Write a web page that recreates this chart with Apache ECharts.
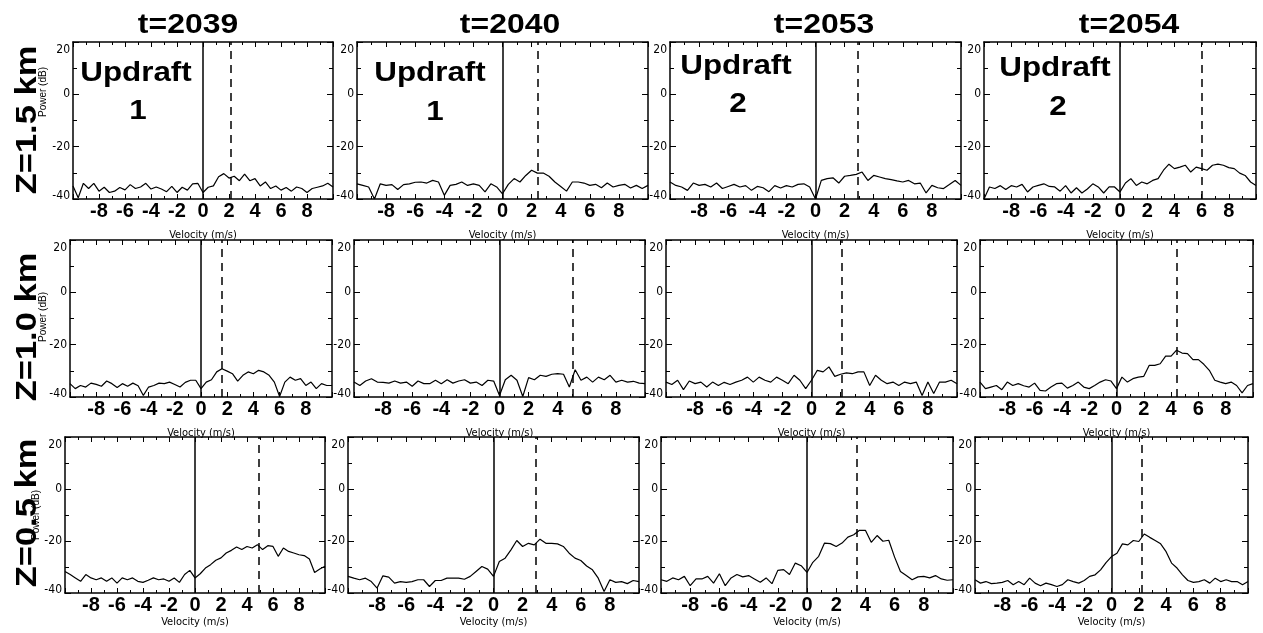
<!DOCTYPE html>
<html><head><meta charset="utf-8">
<script src="https://cdn.jsdelivr.net/npm/echarts@6/dist/echarts.min.js"></script>
<style>html,body{margin:0;padding:0;background:#fff}#c{width:1263px;height:633px}</style>
</head><body><div id="c"></div><script>
// ---------- data ----------
const times = ['t=2039', 't=2040', 't=2053', 't=2054'];
const heights = ['Z=1.5 km', 'Z=1.0 km', 'Z=0.5 km'];
const updraftWord = ['Updraft', 'Updraft', 'Updraft', 'Updraft'];
const updraftNum = ['1', '1', '2', '2'];
const xTickValues = [-8, -6, -4, -2, 0, 2, 4, 6, 8];
const yTickValues = [-40, -20, 0, 20];
const xName = 'Velocity (m/s)';
const yName = 'Power (dB)';

const velocity = [-10,-9.6,-9.2,-8.8,-8.4,-8,-7.6,-7.2,-6.8,-6.4,-6,-5.6,-5.2,-4.8,-4.4,-4,-3.6,-3.2,-2.8,-2.4,-2,-1.6,-1.2,-0.8,-0.4,0,0.4,0.8,1.2,1.6,2,2.4,2.8,3.2,3.6,4,4.4,4.8,5.2,5.6,6,6.4,6.8,7.2,7.6,8,8.4,8.8,9.2,9.6,10];

const power_z15_t2039 = [-35,-39.5,-34,-36,-34,-37,-35.5,-37.5,-37,-35.6,-36.5,-34.5,-36,-35.4,-34,-36.2,-35.4,-36.2,-37.2,-35.2,-37.5,-35.5,-36.6,-34.2,-34,-37.5,-35.5,-35,-31.5,-30.3,-32,-31.3,-33,-30.5,-33,-32.2,-35,-33.5,-36,-35,-36.6,-35.6,-37,-35.4,-36,-37.5,-36,-35.5,-35,-34,-35.4];
const power_z15_t2040 = [-34.2,-34.8,-35.4,-40,-34.2,-34.8,-34.5,-36.4,-34.5,-34.2,-33.6,-33.5,-33.9,-32.9,-33.5,-38.6,-34.8,-34.4,-33.5,-34.8,-34.2,-34.8,-37.3,-34.2,-35.4,-38,-34.4,-32.2,-33.5,-31,-29,-30.1,-30.1,-31.3,-33.5,-35.2,-37,-33.5,-33.5,-33.9,-34.8,-34.4,-35.7,-33.9,-35.4,-34.8,-34.4,-35.8,-34.8,-36,-34.8];
const power_z15_t2053 = [-33.5,-34.8,-35.4,-36.7,-33.9,-34.8,-34.4,-35.4,-33.9,-36,-35.2,-34.4,-35.4,-34.9,-36.7,-35.2,-35.7,-37.2,-34.9,-35.8,-34.9,-35.4,-34.4,-34.2,-35.4,-40,-32.9,-32.2,-31.9,-33.9,-31.3,-31,-30.6,-29.7,-32.9,-31,-31.6,-32.2,-32.6,-33.1,-33.5,-32.9,-34.2,-33.9,-37.7,-34.8,-35.7,-36,-34.5,-32.9,-34.8];
const power_z15_t2054 = [-40,-35.4,-36,-34.9,-36.4,-34.9,-35.4,-34.4,-37.3,-35.4,-34.8,-34.2,-35.2,-35.4,-37,-34.9,-37.7,-35.7,-37.7,-36.2,-34.2,-35.4,-37.7,-35.4,-35.4,-37.3,-33.9,-32.2,-34.8,-33.5,-34.2,-32.9,-32.2,-29,-26.7,-28.4,-27.8,-27.1,-29.7,-27.8,-28.4,-29,-27.1,-26.7,-27.1,-28,-28.4,-30.1,-31,-33.5,-34.8];

const power_z10_t2039 = [-34.9,-36.8,-35.6,-36.2,-34.7,-35.2,-35.9,-33.9,-34.9,-36.4,-34.9,-35.9,-34.7,-35.7,-39.4,-36.2,-35.6,-34.7,-34.9,-34.3,-35.2,-36.2,-34.4,-33.6,-33.6,-36.8,-34.3,-33.4,-30.4,-29.2,-30.1,-31.1,-33.9,-31.7,-30.4,-31.1,-29.8,-30.4,-31.7,-34.3,-39.8,-34.3,-32.4,-33.6,-33,-35.6,-34.3,-36.8,-34.9,-35.6,-35.6];
const power_z10_t2040 = [-34.3,-35.6,-33.9,-33,-34.3,-34.4,-34.7,-33.9,-34.7,-34.3,-35.9,-33.9,-34.9,-34.9,-33.6,-34.9,-33.4,-34.7,-33.9,-33.4,-34.7,-34.3,-35.6,-33.6,-33.9,-39.4,-33.4,-31.7,-33.6,-39.8,-32.6,-33.4,-31.7,-32.1,-31.3,-31.1,-31.3,-36.2,-29.6,-33.6,-32.4,-34.3,-32.4,-33.4,-31.7,-34.3,-33.6,-34.3,-34,-34.7,-34.9];
const power_z10_t2053 = [-34.3,-35.2,-33.6,-37.2,-33.9,-34.9,-34.3,-36.2,-34.3,-35.6,-34.4,-35.2,-34.3,-33.6,-32.4,-34.3,-32.4,-33.6,-34.3,-32.4,-33.6,-34.9,-31.7,-33.6,-36.8,-33.6,-29.8,-30.4,-28.5,-32.1,-31.3,-30.8,-31.1,-30.4,-30.4,-35.6,-31.7,-33.6,-34.9,-34.3,-35.6,-34.3,-34.9,-34.3,-39.4,-34.3,-38.7,-34.3,-34.3,-33.6,-34.9];
const power_z10_t2054 = [-34.3,-36.8,-36.2,-35.6,-37.2,-34.3,-35.6,-34.9,-35.7,-36.2,-34.7,-37.5,-37.7,-36.2,-34.9,-34.7,-36.6,-35.6,-34.3,-36.2,-36.8,-35.6,-34.3,-33.4,-33.9,-36.8,-32.4,-34.3,-33,-32.4,-32.1,-27.9,-27.9,-27.3,-24.4,-24.4,-22.1,-23.2,-23.4,-25.7,-25.7,-27.5,-29.8,-33.6,-34.3,-34.9,-34.3,-35.6,-38.4,-35.6,-34.9];

const power_z05_t2039 = [-31.7,-32.9,-34.2,-35.5,-32.9,-34.2,-34.9,-34.2,-35.5,-34.2,-36.2,-34.2,-34.9,-34.2,-35.5,-35.9,-35.1,-34.2,-34.9,-34.6,-35.5,-34.2,-35.9,-32.9,-31.3,-34.2,-32.6,-30.4,-29.1,-27.4,-26.5,-24.6,-23.6,-22.3,-23.3,-22.1,-22.7,-21.4,-23.3,-21.8,-22.1,-25.9,-22.7,-24,-24.6,-25.3,-25.6,-26.9,-32.1,-30.8,-29.7];
const power_z05_t2040 = [-33.6,-34.3,-34.9,-34.3,-35.6,-38.1,-33.4,-33.9,-36.2,-35.6,-35.9,-35.6,-34.9,-34.9,-37.5,-35.2,-35.2,-34.3,-34.3,-34.3,-34.7,-33.6,-31.7,-29.8,-30.8,-33.6,-27.9,-26.6,-23.4,-19.8,-22.1,-20.9,-21.5,-19.3,-20.9,-20.9,-21.1,-22.1,-24.7,-26.6,-27.5,-29.6,-31.1,-34.3,-39.4,-34.9,-35.9,-35.6,-36.4,-35.2,-35.6];
const power_z05_t2053 = [-34.9,-35.5,-34.2,-34.9,-33.6,-37.2,-34.6,-34.6,-33.6,-36.2,-32.6,-37.2,-34.2,-32.9,-33.8,-33.3,-34.6,-35.9,-34.2,-36.4,-31.3,-31,-32.9,-28.5,-29.5,-32.1,-28.2,-25.9,-20.8,-21,-22.1,-20.8,-18.5,-17.6,-15.9,-15.9,-20.5,-17.9,-20.1,-19.7,-26.2,-31.7,-33.3,-34.9,-33.8,-33.6,-34.2,-33.3,-34.6,-35.1,-34.9];
const power_z05_t2054 = [-34.9,-36.2,-35.6,-36.4,-36.2,-35.9,-35.2,-36.8,-35.6,-36.8,-34.3,-36.2,-37.2,-36.2,-36.8,-37.5,-36.8,-34.9,-35.6,-36.2,-35.2,-33.6,-33,-31.1,-28.3,-26,-24.7,-21.1,-21.5,-19.8,-20.2,-17.3,-18.6,-19.8,-21.1,-24.1,-28.5,-30.4,-33,-35.2,-35.9,-35.6,-34.9,-36.2,-34.3,-35.6,-34.9,-35.6,-35.6,-36.8,-35.6];

const meanVel_z15 = [2.1, 2.4, 2.9, 6.0];
const meanVel_z10 = [1.6, 5.0, 2.1, 4.4];
const meanVel_z05 = [4.9, 2.9, 3.4, 2.2];

// ---------- layout ----------
const powerRows = [
  [power_z15_t2039, power_z15_t2040, power_z15_t2053, power_z15_t2054],
  [power_z10_t2039, power_z10_t2040, power_z10_t2053, power_z10_t2054],
  [power_z05_t2039, power_z05_t2040, power_z05_t2053, power_z05_t2054]
];
const meanRows = [meanVel_z15, meanVel_z10, meanVel_z05];
const boxes = [
  [[73,42,260,157],[357,42,291,157],[670,42,291,157],[984,42,272,157]],
  [[70,240,262,157],[354,240,291,157],[666,240,291,157],[980,240,273,157]],
  [[65,437,260,156],[348,437,291,156],[661,437,292,156],[975,437,273,156]]
];
const nameGaps = [31, 31, 24];
const narrow = "'Liberation Sans Narrow','DejaVu Sans Condensed',sans-serif";
const bold = "'Liberation Sans',Arial,sans-serif";

const grid = [], xAxis = [], yAxis = [], series = [];
let gi = 0;
for (let r = 0; r < 3; r++) {
  for (let c = 0; c < 4; c++) {
    const b = boxes[r][c];
    grid.push({left: b[0], top: b[1], width: b[2], height: b[3], containLabel: false});
    const lineS = {show: true, onZero: false, lineStyle: {color: '#000', width: 1.5}};
    const tickS = {inside: true, length: 5, lineStyle: {color: '#000', width: 1}};
    const minorS = {show: true, splitNumber: 2, length: 3, lineStyle: {color: '#000', width: 1}};
    xAxis.push({
      type: 'value', gridIndex: gi, min: -10, max: 10, interval: 2, position: 'bottom',
      axisLine: lineS, axisTick: tickS, minorTick: minorS, splitLine: {show: false},
      axisLabel: {customValues: xTickValues, color: '#000', fontFamily: bold, fontWeight: 'bold', fontSize: 20, margin: 2},
      name: xName, nameLocation: 'middle', nameGap: nameGaps[r],
      nameTextStyle: {fontFamily: narrow, fontSize: 11, color: '#000'}
    });
    xAxis.push({
      type: 'value', gridIndex: gi, min: -10, max: 10, interval: 2, position: 'top',
      axisLine: lineS, axisTick: tickS, minorTick: minorS, splitLine: {show: false},
      axisLabel: {show: false}
    });
    const ytick = {inside: true, length: 6, lineStyle: {color: '#000', width: 1}};
    const yminor = {show: true, splitNumber: 2, length: 4, lineStyle: {color: '#000', width: 1}};
    yAxis.push({
      type: 'value', gridIndex: gi, min: -40, max: 20, interval: 20, position: 'left',
      axisLine: lineS, axisTick: ytick, minorTick: yminor, splitLine: {show: false},
      axisLabel: {customValues: yTickValues, color: '#000', fontFamily: narrow, fontSize: 12, margin: 3,
        formatter: v => v === 20 ? '{top|20}' : (v === -40 ? '{bot|-40}' : String(v)),
        rich: {
          top: {fontFamily: narrow, fontSize: 12, color: '#000', padding: [15, 0, 0, 0]},
          bot: {fontFamily: narrow, fontSize: 12, color: '#000', padding: [0, 0, 7, 0]}
        }}
    });
    yAxis.push({
      type: 'value', gridIndex: gi, min: -40, max: 20, interval: 20, position: 'right',
      axisLine: lineS, axisTick: ytick, minorTick: yminor, splitLine: {show: false},
      axisLabel: {show: false}
    });
    const pw = powerRows[r][c];
    series.push({
      type: 'line', xAxisIndex: gi * 2, yAxisIndex: gi * 2,
      data: velocity.map((v, i) => [v, pw[i]]),
      showSymbol: false, symbol: 'none', silent: true,
      lineStyle: {color: '#000', width: 1.2},
      markLine: {
        silent: true, symbol: 'none', label: {show: false},
        data: [
          {xAxis: 0, lineStyle: {color: '#000', type: 'solid', width: 1.5}},
          {xAxis: meanRows[r][c], lineStyle: {color: '#000', type: [8, 6], width: 1.5}}
        ]
      }
    });
    gi++;
  }
}

// ---------- text overlays ----------
const graphic = [];
const titleX = [188, 510, 824, 1129];
times.forEach((t, i) => graphic.push({
  type: 'text', x: titleX[i], y: 25, scaleX: 1.14,
  style: {text: t, font: "bold 28px " + bold, fill: '#000', align: 'center', verticalAlign: 'middle'}
}));
const rowY = [120, 327, 513];
heights.forEach((h, i) => graphic.push({
  type: 'text', x: 28, y: rowY[i], rotation: Math.PI / 2, scaleX: 1.15,
  style: {text: h, font: "bold 30px " + bold, fill: '#000', align: 'center', verticalAlign: 'middle'}
}));
const powX = [43, 43, 36], powY = [92, 317, 515];
for (let i = 0; i < 3; i++) graphic.push({
  type: 'text', x: powX[i], y: powY[i], rotation: Math.PI / 2,
  style: {text: yName, font: "10px " + bold, fill: '#000', align: 'center', verticalAlign: 'middle'}
});
const updX = [136, 430, 736, 1055], updY = [73, 73, 66, 68];
const numX = [138, 435, 738, 1058], numY = [111, 112, 104, 107];
for (let i = 0; i < 4; i++) {
  graphic.push({type: 'text', x: updX[i], y: updY[i], scaleX: 1.12,
    style: {text: updraftWord[i], font: "bold 28px " + bold, fill: '#000', align: 'center', verticalAlign: 'middle'}});
  graphic.push({type: 'text', x: numX[i], y: numY[i], scaleX: 1.12,
    style: {text: updraftNum[i], font: "bold 28px " + bold, fill: '#000', align: 'center', verticalAlign: 'middle'}});
}

const chart = echarts.init(document.getElementById('c'), null, {renderer: 'canvas'});
chart.setOption({
  animation: false, backgroundColor: '#fff',
  grid, xAxis, yAxis, series, graphic
});
</script></body></html>
